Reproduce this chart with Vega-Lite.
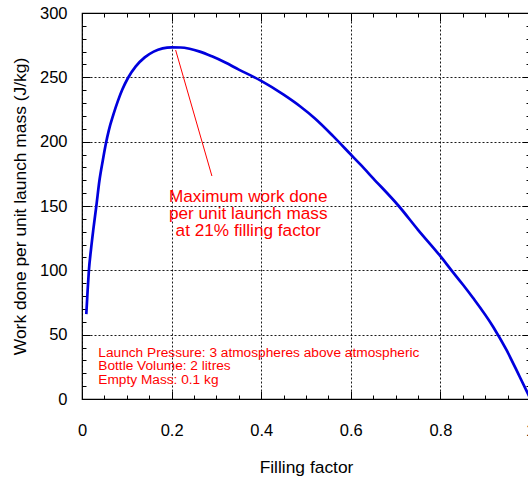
{
  "$schema": "https://vega.github.io/schema/vega-lite/v6.json",
  "width": 448,
  "height": 386,
  "autosize": {"type": "none"},
  "padding": {"left": 82, "top": 13, "right": 0, "bottom": 81},
  "background": "white",
  "datasets": {
    "curve": [
      {"f": 0.0096, "w": 66},
      {"f": 0.0125, "w": 84},
      {"f": 0.0154, "w": 100},
      {"f": 0.02, "w": 116},
      {"f": 0.025, "w": 131},
      {"f": 0.032, "w": 150},
      {"f": 0.039, "w": 170},
      {"f": 0.0467, "w": 186},
      {"f": 0.053, "w": 198},
      {"f": 0.06, "w": 209},
      {"f": 0.07, "w": 221},
      {"f": 0.08, "w": 231.5},
      {"f": 0.09, "w": 240.5},
      {"f": 0.1026, "w": 249.5},
      {"f": 0.12, "w": 258.5},
      {"f": 0.14, "w": 265.5},
      {"f": 0.16, "w": 270},
      {"f": 0.18, "w": 272.5},
      {"f": 0.2, "w": 273.3},
      {"f": 0.22, "w": 273.2},
      {"f": 0.24, "w": 272.2},
      {"f": 0.263, "w": 270},
      {"f": 0.29, "w": 266.3},
      {"f": 0.32, "w": 261.5},
      {"f": 0.35, "w": 256},
      {"f": 0.385, "w": 250},
      {"f": 0.4, "w": 247.2},
      {"f": 0.45, "w": 236.5},
      {"f": 0.4866, "w": 227.5},
      {"f": 0.52, "w": 218},
      {"f": 0.56, "w": 204.5},
      {"f": 0.6, "w": 190},
      {"f": 0.6207, "w": 182.5},
      {"f": 0.65, "w": 171.5},
      {"f": 0.707, "w": 150},
      {"f": 0.75, "w": 131.5},
      {"f": 0.8, "w": 111},
      {"f": 0.8247, "w": 100},
      {"f": 0.85, "w": 89},
      {"f": 0.873, "w": 78.5},
      {"f": 0.9176, "w": 56.2},
      {"f": 0.9475, "w": 38.1},
      {"f": 0.977, "w": 17.3},
      {"f": 0.995, "w": 4.4},
      {"f": 1.0, "w": 0.8}
    ],
    "pointer": [{"x": 0.209, "y": 271.2, "x2": 0.29, "y2": 173.3}],
    "note": [
      {"x": 0.371, "y": 152.9, "t": "Maximum work done"},
      {"x": 0.371, "y": 139.9, "t": "per unit launch mass"},
      {"x": 0.371, "y": 126.9, "t": "at 21% filling factor"}
    ],
    "params": [
      {"x": 0.0364, "y": 33.0, "t": "Launch Pressure: 3 atmospheres above atmospheric"},
      {"x": 0.0364, "y": 22.5, "t": "Bottle Volume: 2 litres"},
      {"x": 0.0364, "y": 12.0, "t": "Empty Mass: 0.1 kg"}
    ]
  },
  "layer": [
    {
      "data": {"name": "curve"},
      "mark": {"type": "line", "color": "#0000dd", "strokeWidth": 2.7, "clip": true, "interpolate": "monotone"},
      "encoding": {
        "x": {
          "field": "f", "type": "quantitative",
          "scale": {"domain": [0, 1], "nice": false, "zero": false},
          "axis": {
            "orient": "bottom",
            "values": [0, 0.2, 0.4, 0.6, 0.8, 1],
            "format": "~g",
            "labelFlush": false,
            "grid": true,
            "ticks": true,
            "tickSize": -8,
            "labelPadding": 31,
            "title": "Filling factor",
            "titlePadding": 20
          }
        },
        "y": {
          "field": "w", "type": "quantitative",
          "scale": {"domain": [0, 300], "nice": false, "zero": false},
          "axis": {
            "orient": "left",
            "values": [0, 50, 100, 150, 200, 250, 300],
            "format": "d",
            "grid": true,
            "ticks": true,
            "tickSize": -8,
            "labelPadding": 23,
            "title": "Work done per unit launch mass (J/kg)",
            "titlePadding": 10
          }
        }
      }
    },
    {
      "data": {"name": "pointer"},
      "mark": {"type": "rule", "color": "#ff0000", "strokeWidth": 1},
      "encoding": {
        "x": {
          "field": "x", "type": "quantitative",
          "axis": {"orient": "top", "values": [0, 0.2, 0.4, 0.6, 0.8, 1], "labels": false, "grid": false, "tickSize": -8, "title": null}
        },
        "y": {
          "field": "y", "type": "quantitative",
          "axis": {"orient": "right", "values": [0, 50, 100, 150, 200, 250, 300], "labels": false, "grid": false, "tickSize": -8, "title": null}
        },
        "x2": {"field": "x2"},
        "y2": {"field": "y2"}
      }
    },
    {
      "data": {"name": "note"},
      "mark": {"type": "text", "color": "#ff0000", "font": "Liberation Sans", "fontSize": 17.2, "align": "center", "baseline": "alphabetic"},
      "encoding": {
        "x": {
          "field": "x", "type": "quantitative",
          "axis": {"orient": "bottom", "values": [0.05, 0.1, 0.15, 0.25, 0.3, 0.35, 0.45, 0.5, 0.55, 0.65, 0.7, 0.75, 0.85, 0.9, 0.95], "labels": false, "grid": false, "tickSize": -4, "title": null}
        },
        "y": {
          "field": "y", "type": "quantitative",
          "axis": {"orient": "left", "values": [10, 20, 30, 40, 60, 70, 80, 90, 110, 120, 130, 140, 160, 170, 180, 190, 210, 220, 230, 240, 260, 270, 280, 290], "labels": false, "grid": false, "tickSize": -4, "title": null}
        },
        "text": {"field": "t"}
      }
    },
    {
      "data": {"name": "params"},
      "mark": {"type": "text", "color": "#ff0000", "font": "Liberation Sans", "fontSize": 13.7, "align": "left", "baseline": "alphabetic"},
      "encoding": {
        "x": {
          "field": "x", "type": "quantitative",
          "axis": {"orient": "top", "values": [0.05, 0.1, 0.15, 0.25, 0.3, 0.35, 0.45, 0.5, 0.55, 0.65, 0.7, 0.75, 0.85, 0.9, 0.95], "labels": false, "grid": false, "tickSize": -4, "title": null}
        },
        "y": {
          "field": "y", "type": "quantitative",
          "axis": {"orient": "right", "values": [10, 20, 30, 40, 60, 70, 80, 90, 110, 120, 130, 140, 160, 170, 180, 190, 210, 220, 230, 240, 260, 270, 280, 290], "labels": false, "grid": false, "tickSize": -4, "title": null}
        },
        "text": {"field": "t"}
      }
    }
  ],
  "resolve": {"axis": {"x": "independent", "y": "independent"}},
  "config": {
    "view": {"stroke": "black", "strokeWidth": 1.2},
    "axis": {
      "domain": false,
      "labelFont": "Liberation Sans",
      "titleFont": "Liberation Sans",
      "labelFontSize": 16.5,
      "titleFontSize": 17.4,
      "titleFontWeight": "normal",
      "labelColor": "black",
      "titleColor": "black",
      "tickColor": "black",
      "tickWidth": 1,
      "gridColor": "black",
      "gridDash": [2, 2],
      "gridOpacity": 0.9,
      "gridWidth": 1
    }
  }
}
